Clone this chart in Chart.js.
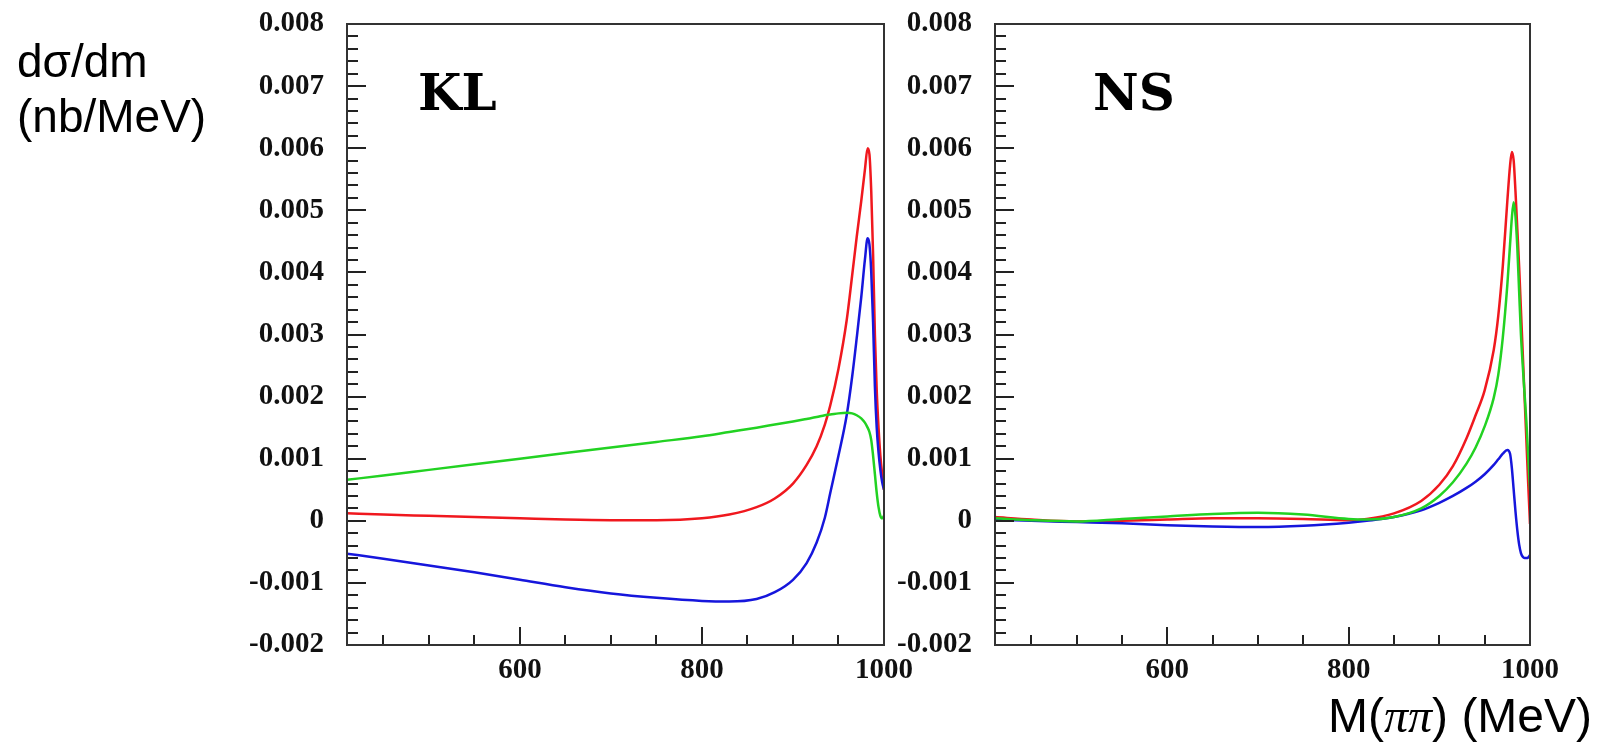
<!DOCTYPE html>
<html>
<head>
<meta charset="utf-8">
<script src="https://cdn.jsdelivr.net/npm/chart.js@4.4.1/dist/chart.umd.min.js"></script>
<style>
    html, body { margin: 0; padding: 0; background: #fff; }
    .panel { position: absolute; left: 0; top: 0; width: 1600px; height: 750px; }
</style>
</head>
<body>
<canvas id="klChart" class="panel" width="1600" height="750"></canvas>
<canvas id="nsChart" class="panel" width="1600" height="750"></canvas>
<script>
// Mass axis (MeV) and the three curves for each panel
const massKL = [410, 450, 500, 550, 600, 650, 700, 750, 800, 830, 860, 880, 900, 915, 926, 935,
    941, 950, 959, 965, 970, 975, 979, 982, 984, 986, 988, 990, 992, 994, 996, 998, 1000];
const greenKL = [0.00066, 0.00073, 0.00082, 0.00091, 0.00100, 0.00109, 0.00118, 0.00127, 0.00136,
    0.00143, 0.00150, 0.00155, 0.00160, 0.00164, 0.00167, 0.00170, 0.00171, 0.00173, 0.00174,
    0.00173, 0.00170, 0.00165, 0.00158, 0.00150, 0.00143, 0.00130, 0.00105, 0.00075, 0.00045,
    0.00022, 0.00008, 0.00004, 0.00008];
const redKL = [0.00012, 0.00010, 0.00008, 0.00006, 0.00004, 0.00002, 0.00001, 0.00001, 0.00004,
    0.00010, 0.00022, 0.00036, 0.00060, 0.00090, 0.00120, 0.00155, 0.00186, 0.00245, 0.00323,
    0.00395, 0.00457, 0.00515, 0.00565, 0.00600, 0.00590, 0.00530, 0.00430, 0.00300, 0.00210,
    0.00150, 0.00105, 0.00075, 0.00050];
const blueKL = [-0.00053, -0.00061, -0.00072, -0.00083, -0.00095, -0.00107, -0.00117, -0.00124,
    -0.00129, -0.00130, -0.00126, -0.00115, -0.00095, -0.00068, -0.00035, 0.00005, 0.00045,
    0.00105, 0.00170, 0.00232, 0.00294, 0.00360, 0.00420, 0.00455, 0.00445, 0.00400, 0.00320,
    0.00216, 0.00150, 0.00110, 0.00082, 0.00062, 0.00050];

const massNS = [410, 450, 500, 550, 600, 650, 700, 750, 800, 820, 850, 880, 900, 915, 930, 940,
    950, 960, 965, 970, 975, 978, 980, 982, 984, 986, 988, 990, 992, 994, 996, 998, 1000];
const redNS = [0.00006, 0.00002, -0.00001, 0.00000, 0.00002, 0.00004, 0.00004, 0.00003, 0.00001,
    0.00003, 0.00012, 0.00032, 0.00058, 0.00088, 0.00133, 0.00170, 0.00210, 0.00275, 0.00330,
    0.00410, 0.00515, 0.00572, 0.00594, 0.00580, 0.00530, 0.00470, 0.00410, 0.00340, 0.00270,
    0.00200, 0.00130, 0.00060, -0.00005];
const greenNS = [0.00004, 0.00001, -0.00001, 0.00003, 0.00007, 0.00011, 0.00013, 0.00010, 0.00003,
    0.00002, 0.00006, 0.00020, 0.00040, 0.00062, 0.00092, 0.00118, 0.00152, 0.00198, 0.00235,
    0.00295, 0.00380, 0.00445, 0.00488, 0.00513, 0.00490, 0.00440, 0.00370, 0.00300, 0.00250,
    0.00205, 0.00160, 0.00105, 0.00050];
const blueNS = [0.00002, 0.00000, -0.00002, -0.00004, -0.00007, -0.00009, -0.00010, -0.00008,
    -0.00003, 0.00000, 0.00006, 0.00017, 0.00029, 0.00040, 0.00053, 0.00063, 0.00075, 0.00090,
    0.00099, 0.00108, 0.00114, 0.00108, 0.00085, 0.00050, 0.00015, -0.00015, -0.00038, -0.00052,
    -0.00058, -0.00060, -0.00060, -0.00059, -0.00055];

// Axis ranges and tick labels
const xMin = 410, xMax = 1000;
const xTicks = [600, 800, 1000];
const xMinorStep = 50;
const yMin = -0.002, yMax = 0.008;
const yTicks = [-0.002, -0.001, 0, 0.001, 0.002, 0.003, 0.004, 0.005, 0.006, 0.007, 0.008];
const yMinorStep = 0.0002;

const RED = 'rgb(240, 24, 30)';
const GREEN = 'rgb(34, 210, 34)';
const BLUE = 'rgb(22, 22, 220)';

const tickFont = { family: '"Liberation Serif", "Times New Roman", serif', size: 29, weight: 'bold' };

function series(mass, values, color) {
    return {
        data: mass.map((m, i) => ({ x: m, y: values[i] })),
        borderColor: color,
        borderWidth: 2.5,
        pointRadius: 0,
        cubicInterpolationMode: 'monotone',
        fill: false
    };
}

// Box frame plus inward tick marks, like a ROOT-style histogram frame
const framePlugin = {
    id: 'frame',
    afterDatasetsDraw(chart) {
        const { ctx, chartArea: a, scales: { x, y } } = chart;
        ctx.save();
        ctx.strokeStyle = '#222';
        ctx.lineWidth = 2;
        ctx.beginPath();
        for (let m = Math.ceil(xMin / xMinorStep) * xMinorStep; m < xMax; m += xMinorStep) {
            const px = Math.round(x.getPixelForValue(m));
            const len = xTicks.includes(m) ? 18 : 10;
            ctx.moveTo(px, a.bottom);
            ctx.lineTo(px, a.bottom - len);
        }
        const nMinor = Math.round((yMax - yMin) / yMinorStep);
        for (let i = 1; i < nMinor; i++) {
            const v = yMin + i * yMinorStep;
            const py = Math.round(y.getPixelForValue(v));
            const len = i % 5 === 0 ? 19 : 11;
            ctx.moveTo(a.left, py);
            ctx.lineTo(a.left + len, py);
        }
        ctx.stroke();
        ctx.strokeStyle = '#333';
        ctx.strokeRect(a.left, a.top, a.right - a.left, a.bottom - a.top);

        const lbl = chart.options.plugins.frame;
        ctx.fillStyle = '#000';
        ctx.font = 'bold 50px "DejaVu Serif", serif';
        ctx.textBaseline = 'alphabetic';
        ctx.fillText(lbl.text, lbl.x, lbl.y);
        ctx.restore();
    }
};

// Shared axis titles, drawn once on the left and once on the right chart
const titlePlugin = {
    id: 'titles',
    afterDraw(chart) {
        const opt = chart.options.plugins.titles;
        const ctx = chart.ctx;
        ctx.save();
        ctx.fillStyle = '#000';
        ctx.textBaseline = 'alphabetic';
        const sans = '46px "Liberation Sans", Arial, sans-serif';
        if (opt.yTitle) {
            ctx.font = sans;
            ctx.fillText('dσ/dm', 17, 77);
            ctx.fillText('(nb/MeV)', 17, 132);
        }
        if (opt.xTitle) {
            const parts = [
                ['M(', '48px "Liberation Sans", Arial, sans-serif'],
                ['ππ', 'italic 48px "Liberation Serif", "Times New Roman", serif'],
                [') (MeV)', '48px "Liberation Sans", Arial, sans-serif']
            ];
            let px = 1328;
            parts.forEach(([t, f]) => {
                ctx.font = f;
                ctx.fillText(t, px, 732);
                px += ctx.measureText(t).width;
            });
        }
        ctx.restore();
    }
};

function makePanel(canvasId, datasets, padLeft, padRight, label, titles) {
    return new Chart(document.getElementById(canvasId), {
        type: 'line',
        data: { datasets },
        options: {
            responsive: false,
            animation: false,
            events: [],
            layout: { padding: { left: padLeft, right: padRight, top: 24, bottom: 50 } },
            plugins: {
                legend: { display: false },
                tooltip: { enabled: false },
                frame: label,
                titles: titles
            },
            scales: {
                x: {
                    type: 'linear',
                    min: xMin,
                    max: xMax,
                    grid: { display: false, drawTicks: false },
                    border: { display: false },
                    ticks: {
                        font: tickFont,
                        color: '#111',
                        padding: 8,
                        maxRotation: 0,
                        autoSkip: false,
                        callback: v => String(v)
                    },
                    afterBuildTicks: s => { s.ticks = xTicks.map(v => ({ value: v })); },
                    afterFit: s => { s.height = 55; s.paddingLeft = 0; s.paddingRight = 0; }
                },
                y: {
                    type: 'linear',
                    min: yMin,
                    max: yMax,
                    grid: { display: false, drawTicks: false },
                    border: { display: false },
                    ticks: {
                        font: tickFont,
                        color: '#111',
                        padding: 23,
                        autoSkip: false,
                        callback: v => Math.abs(v) < 1e-9 ? '0' : v.toFixed(3)
                    },
                    afterBuildTicks: s => { s.ticks = yTicks.map(v => ({ value: v })); },
                    afterFit: s => { s.width = 117; s.paddingTop = 0; s.paddingBottom = 0; }
                }
            }
        },
        plugins: [framePlugin, titlePlugin]
    });
}

makePanel('klChart',
    [series(massKL, greenKL, GREEN), series(massKL, blueKL, BLUE), series(massKL, redKL, RED)],
    230, 716, { text: 'KL', x: 418, y: 110 }, { yTitle: true });

makePanel('nsChart',
    [series(massNS, greenNS, GREEN), series(massNS, blueNS, BLUE), series(massNS, redNS, RED)],
    878, 70, { text: 'NS', x: 1093, y: 110 }, { xTitle: true });
</script>
</body>
</html>
